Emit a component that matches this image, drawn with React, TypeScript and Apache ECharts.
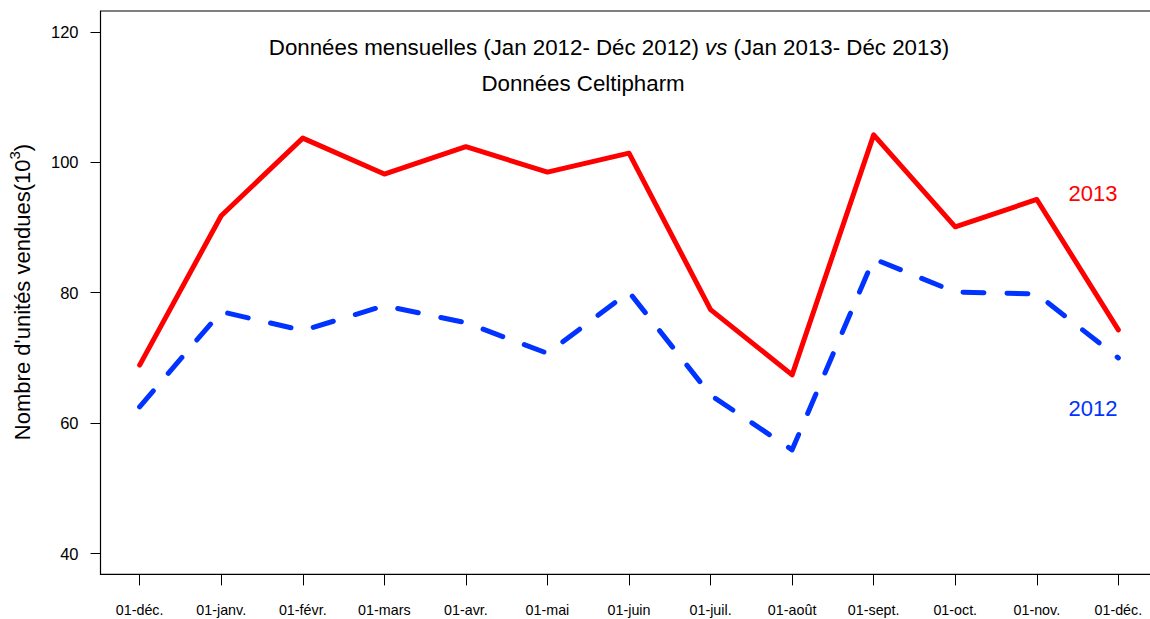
import React, { useEffect, useRef } from "react";
import * as echarts from "echarts";

const monthLabels = [
  "01-déc.", "01-janv.", "01-févr.", "01-mars", "01-avr.", "01-mai", "01-juin",
  "01-juil.", "01-août", "01-sept.", "01-oct.", "01-nov.", "01-déc.",
];
const sales2013 = [68.9, 91.8, 103.7, 98.2, 102.4, 98.5, 101.4, 77.4, 67.4, 104.2, 90.1, 94.3, 74.3];
const sales2012 = [62.5, 77.1, 74.2, 78.0, 75.4, 70.7, 80.1, 64.3, 55.9, 85.2, 80.1, 79.8, 70.0];
const yTicks = [40, 60, 80, 100, 120];
const titleLine1 = "Données mensuelles (Jan 2012- Déc 2012) {it|vs} (Jan 2013- Déc 2013)";
const titleLine2 = "Données Celtipharm";
const yAxisTitle = "Nombre d'unités vendues(10{sup|3})";

const FONT = "'Liberation Sans', Arial, Helvetica, sans-serif";

export default function App() {
  const ref = useRef<HTMLDivElement>(null);
  useEffect(() => {
    document.body.style.margin = "0";
    document.body.style.overflow = "hidden";
    const chart = echarts.init(ref.current!, null, { renderer: "svg" });
    const idx = monthLabels.map((_, i) => i);
    chart.setOption({
      animation: false,
      backgroundColor: "#ffffff",
      grid: {
        left: 100.5,
        top: 11,
        width: 1057,
        height: 563.4,
        show: true,
        borderColor: "#000",
        borderWidth: 1.2,
        backgroundColor: "transparent",
      },
      xAxis: {
        type: "value",
        min: -0.48,
        max: 12.48,
        axisLine: { show: false, onZero: false },
        splitLine: { show: false },
        axisTick: { show: true, customValues: idx, length: 11, lineStyle: { color: "#000", width: 1 } },
        axisLabel: {
          customValues: idx,
          formatter: (v: number) => monthLabels[Math.round(v)],
          margin: 29,
          fontSize: 14.3,
          color: "#000",
          fontFamily: FONT,
        },
      },
      yAxis: {
        type: "value",
        min: 36.8,
        max: 123.2,
        axisLine: { show: false, onZero: false },
        splitLine: { show: false },
        axisTick: { show: true, customValues: yTicks, length: 10, lineStyle: { color: "#000", width: 1 } },
        axisLabel: {
          customValues: yTicks,
          margin: 22,
          fontSize: 16.5,
          color: "#000",
          fontFamily: FONT,
        },
      },
      series: [
        {
          name: "2012",
          type: "line",
          data: sales2012.map((v, i) => [i, v]),
          symbol: "none",
          lineStyle: { color: "#0033ff", width: 5, type: [21, 23], cap: "round", join: "round" },
        },
        {
          name: "2013",
          type: "line",
          data: sales2013.map((v, i) => [i, v]),
          symbol: "none",
          lineStyle: { color: "#ff0000", width: 5, cap: "round", join: "round" },
        },
      ],
      graphic: [
        {
          type: "text",
          x: 609,
          y: 47,
          style: {
            text: titleLine1,
            fontSize: 22.3,
            fontFamily: FONT,
            fill: "#000",
            align: "center",
            verticalAlign: "middle",
            rich: { it: { fontStyle: "italic", fontSize: 22.3, fontFamily: FONT, fill: "#000" } },
          },
        },
        {
          type: "text",
          x: 583,
          y: 83,
          style: {
            text: titleLine2,
            fontSize: 22.3,
            fontFamily: FONT,
            fill: "#000",
            align: "center",
            verticalAlign: "middle",
          },
        },
        {
          type: "text",
          x: 22,
          y: 292,
          rotation: Math.PI / 2,
          style: {
            text: yAxisTitle,
            fontSize: 22,
            fontFamily: FONT,
            fill: "#000",
            align: "center",
            verticalAlign: "middle",
            rich: {
              sup: { fontSize: 15, fontFamily: FONT, fill: "#000", verticalAlign: "top", lineHeight: 30 },
            },
          },
        },
        {
          type: "text",
          x: 1093,
          y: 193,
          style: { text: "2013", fontSize: 22, fontFamily: FONT, fill: "#ff0000", align: "center", verticalAlign: "middle" },
        },
        {
          type: "text",
          x: 1093,
          y: 408,
          style: { text: "2012", fontSize: 22, fontFamily: FONT, fill: "#0033ff", align: "center", verticalAlign: "middle" },
        },
      ],
    });
    return () => chart.dispose();
  }, []);
  return <div ref={ref} style={{ position: "fixed", left: 0, top: 0, width: 1160, height: 619 }} />;
}
